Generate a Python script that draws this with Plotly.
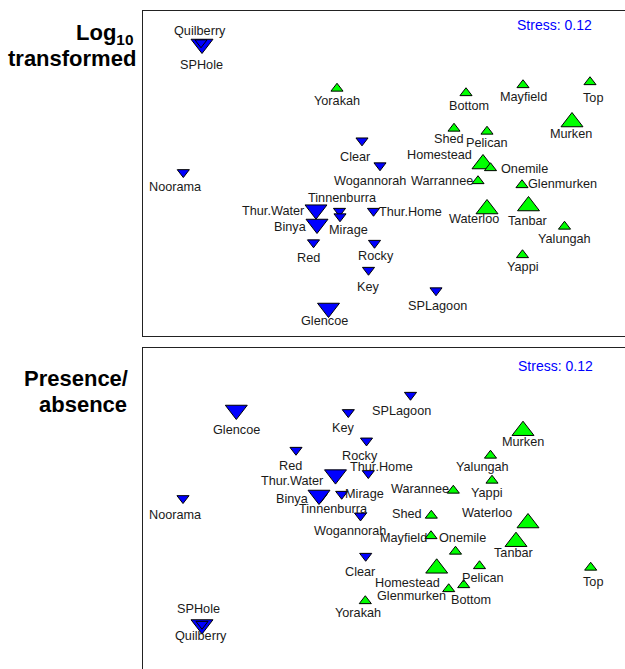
import plotly.graph_objects as go

# ---------------- data (MDS ordination scores, arbitrary units) ----------------
blue_sites = ["Quilberry", "SPHole", "Noorama", "Clear", "Wogannorah", "Thur.Water",
              "Tinnenburra", "Binya", "Mirage", "Thur.Home", "Red", "Rocky", "Key",
              "SPLagoon", "Glencoe"]
blue_big = [1, 0, 0, 0, 0, 1, 0, 1, 0, 0, 0, 0, 0, 0, 1]

green_sites_log = ["Yorakah", "Bottom", "Mayfield", "Top", "Murken", "Shed", "Pelican",
                   "Homestead", "Onemile", "Warrannee", "Glenmurken", "Waterloo", "Tanbar",
                   "Yalungah", "Yappi"]
green_sites_pa = ["Yorakah", "Bottom", "Mayfield", "Top", "Murken", "Shed", "Pelican",
                  "Homestead", "Onemile", "Warannee", "Glenmurken", "Waterloo", "Tanbar",
                  "Yalungah", "Yappi"]
green_big = [0, 0, 0, 0, 1, 0, 0, 1, 0, 0, 0, 1, 1, 0, 0]

# Log10 transformed panel
log_blue_x = [59, 58, 40.3, 219, 237, 173, 196.5, 174, 197, 230.5, 170.5, 231.5, 225.5, 293, 185.5]
log_blue_y = [292, 293.5, 163.7, 195.4, 170.5, 126.3, 125, 112, 119.5, 125, 93.5, 93, 66, 45.5, 28]
log_green_x = [194, 323, 380, 447, 429, 311, 344, 340, 347.5, 335, 379, 344, 385.5, 421.5, 379.5]
log_green_y = [247.5, 243, 251, 254, 214, 207.5, 204.5, 172, 168, 155, 151, 127, 130, 109.5, 81]

# Presence/absence panel
pa_blue_x = [59, 59, 40, 222.7, 217.5, 192.5, 178, 176, 198.7, 225.3, 153, 223.5, 205.3, 267.5, 93.3]
pa_blue_y = [44.5, 45, 170.7, 113, 153.3, 194.4, 172, 174, 175, 195.7, 219, 228.3, 256.7, 274, 259]
pa_green_x = [222.3, 320.7, 288, 447.7, 380, 288.3, 336.5, 293.7, 312.5, 310.3, 305.7, 385, 373, 347.5, 349]
pa_green_y = [68, 84, 133, 101.5, 238.3, 153.5, 103, 100.7, 117.5, 178.5, 80, 146, 127.3, 213.5, 188.5]

stress_text = "Stress: 0.12"

# ---------------- styling (label offsets in pixels: dx right, dy down) ----------------
log_blue_off = [(-2, -13), (0, 22.5), (-8, 14.4), (-7, 16), (-10, 15.5), (-42.7, 1),
                (2.5, -13.3), (-26.7, 2.7), (8.5, 13.5), (36.8, 1.3), (-4.8, 15.2),
                (1.2, 12.7), (0, 16.7), (1.5, 15.2), (-4.5, 13)]
log_green_off = [(0, 12.2), (3, 13), (0, 11.7), (2.5, 15.7), (-0.7, 12.3), (-5, 10.8),
                 (0, 11.8), (-43.5, -9), (33.5, 1.3), (-36, 0), (40.5, -0.7), (-13, 10),
                 (-1, 15), (0, 12.5), (0.5, 11.7)]
pa_blue_off = [(-1, 11.2), (-3.7, -15.3), (-8, 16.7), (-5.4, 15.7), (-10.5, 14.8),
               (-43.5, 6), (12, 12.3), (-26.5, 4), (22.5, 0.3), (13.4, -6.6), (-6, 15.7),
               (-6.5, 15.3), (-5, 15.4), (-8.8, 15.7), (0.4, 20)]
pa_green_off = [(-7.5, 12.3), (7, 15), (-27.3, 1.7), (2, 14.2), (0, 11.6), (-24.6, -1.5),
                (3.8, 11.7), (-29.2, 15), (6.7, -13.8), (-33, -1.8), (-37, 6.7),
                (-41.5, -9.7), (-2.3, 11.6), (-7.8, 11.8), (-5.3, 12.2)]

SMALL, BIG = 10.5, 19
BLUE, GREEN = "#0000FF", "#00FF00"
LABEL_FONT = dict(family="Liberation Sans, Arial, sans-serif", size=12.7, color="#1a1a1a")

W, H = 625, 669
LEFT = 143


def sizes(flags):
    return [BIG if f else SMALL for f in flags]


fig = go.Figure()

panels = [
    ("x", "y", log_blue_x, log_blue_y, log_green_x, log_green_y, green_sites_log,
     log_blue_off, log_green_off),
    ("x2", "y2", pa_blue_x, pa_blue_y, pa_green_x, pa_green_y, green_sites_pa,
     pa_blue_off, pa_green_off),
]

annotations = []
for xa, ya, bx, by, gx, gy, gnames, boff, goff in panels:
    fig.add_trace(go.Scatter(
        x=bx, y=by, mode="markers", xaxis=xa, yaxis=ya, text=blue_sites,
        marker=dict(symbol="triangle-down", size=sizes(blue_big), color=BLUE, opacity=1,
                    line=dict(color="black", width=1)),
        showlegend=False, hoverinfo="text"))
    fig.add_trace(go.Scatter(
        x=gx, y=gy, mode="markers", xaxis=xa, yaxis=ya, text=gnames,
        marker=dict(symbol="triangle-up", size=sizes(green_big), color=GREEN, opacity=1,
                    line=dict(color="black", width=1)),
        showlegend=False, hoverinfo="text"))
    for names, xs, ys, offs in ((blue_sites, bx, by, boff), (gnames, gx, gy, goff)):
        for n, xv, yv, (dx, dy) in zip(names, xs, ys, offs):
            annotations.append(dict(x=xv, y=yv, xref=xa, yref=ya, text=n, showarrow=False,
                                    xshift=dx, yshift=-dy, font=LABEL_FONT,
                                    xanchor="center", yanchor="middle"))


def px(xp):
    return xp / W


def py(yp):
    return 1 - yp / H


# stress labels
for sx, sy in ((554, 25), (555.8, 366)):
    annotations.append(dict(x=px(sx), y=py(sy), xref="paper", yref="paper", text=stress_text,
                            showarrow=False,
                            font=dict(family="Liberation Sans, Arial", size=14, color=BLUE),
                            xanchor="center", yanchor="middle"))

TITLE_FONT = dict(family="Liberation Sans, Arial, sans-serif", size=22, color="black")
for txt, xr, yc in (("<b>Log<sub>10</sub></b>", 135, 34), ("<b>transformed</b>", 138.3, 59),
                    ("<b>Presence/</b>", 130, 378), ("<b>absence</b>", 129.3, 404)):
    annotations.append(dict(x=px(xr), y=py(yc), xref="paper", yref="paper", text=txt,
                            showarrow=False, font=TITLE_FONT, xanchor="right",
                            yanchor="middle", align="right"))

axis_common = dict(showgrid=False, zeroline=False, showticklabels=False, ticks="",
                   showline=True, linecolor="#222", linewidth=1.4)

fig.update_layout(
    width=W, height=H, margin=dict(l=0, r=0, t=0, b=0),
    paper_bgcolor="white", plot_bgcolor="white",
    xaxis=dict(domain=[px(LEFT), 1], range=[0, W - LEFT], anchor="y", mirror=True,
               **axis_common),
    yaxis=dict(domain=[py(336), py(11)], range=[0, 325], anchor="x", **axis_common),
    xaxis2=dict(domain=[px(LEFT), 1], range=[0, W - LEFT], anchor="y2", side="top",
                **axis_common),
    yaxis2=dict(domain=[0, py(347.5)], range=[0, 321.5], anchor="x2", **axis_common),
    annotations=annotations,
)

fig.write_html(
    "out.html",
    config={"displayModeBar": False},
    post_script="document.body.style.margin='0';document.body.style.overflow='hidden';",
)
